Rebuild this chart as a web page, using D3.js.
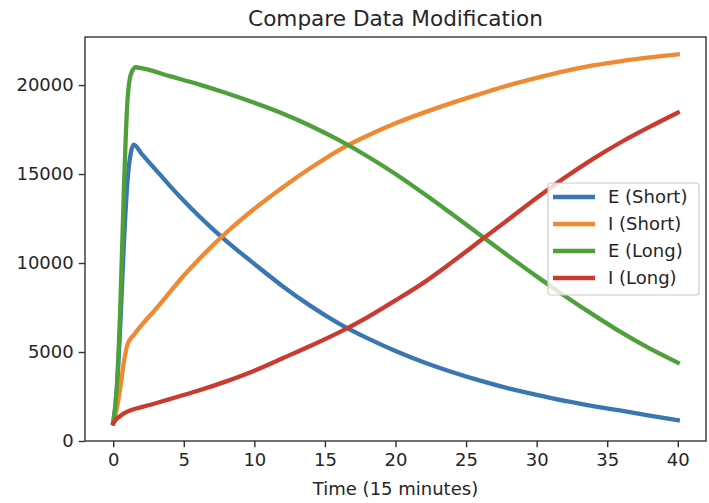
<!DOCTYPE html>
<html lang="en">
<head>
  <meta charset="UTF-8">
  <title>Compare Data Modification</title>
  <script src="https://d3js.org/d3.v7.min.js"></script>
  <style>
    body { margin: 0; background: #fff; }
    text { font-family: "DejaVu Sans", sans-serif; fill: #262626; }
  </style>
</head>
<body>
  <svg id="svg1"></svg>
  <script>
    // values
    const eShortT = [0, 0.25, 0.5, 0.75, 1, 1.25, 1.45, 2, 3, 4, 5, 6, 7, 8, 10, 12, 14, 16, 18, 20, 22, 24, 26, 28, 30, 32, 34, 36, 38, 40];
    const eShort = [1000, 2800, 6500, 11000, 14500, 16200, 16650, 16150, 15250, 14350, 13500, 12700, 11950, 11250, 9950, 8700, 7580, 6600, 5780, 5060, 4430, 3880, 3390, 2960, 2590, 2250, 1960, 1700, 1430, 1170];

    const iShortT = [0, 0.25, 0.5, 0.75, 1, 1.5, 2, 3, 4, 5, 6, 7, 8, 10, 12, 14, 16, 18, 20, 22, 24, 26, 28, 30, 32, 34, 36, 38, 40];
    const iShort = [1000, 1800, 3000, 4400, 5400, 6000, 6500, 7400, 8350, 9300, 10150, 10950, 11700, 13050, 14250, 15350, 16350, 17150, 17850, 18450, 19000, 19500, 19980, 20400, 20780, 21100, 21350, 21550, 21720];

    const eLongT = [0, 0.25, 0.5, 0.75, 1, 1.25, 1.6, 2, 4, 6, 8, 10, 12, 14, 16, 18, 20, 22, 24, 26, 28, 30, 32, 34, 36, 38, 40];
    const eLong = [1000, 3000, 7500, 14000, 19000, 20600, 21000, 20950, 20500, 20050, 19550, 19000, 18400, 17700, 16900, 16000, 15000, 13900, 12750, 11580, 10400, 9250, 8150, 7100, 6100, 5200, 4400];

    const iLongT = [0, 0.25, 0.5, 0.75, 1, 1.5, 2, 4, 6, 8, 10, 12, 14, 16, 18, 20, 22, 24, 26, 28, 30, 32, 34, 36, 38, 40];
    const iLong = [1000, 1250, 1400, 1550, 1650, 1800, 1900, 2350, 2820, 3350, 3950, 4650, 5350, 6100, 6950, 7900, 8900, 10050, 11250, 12450, 13650, 14800, 15850, 16800, 17650, 18450];

    const seriesNames = ["E (Short)", "I (Short)", "E (Long)", "I (Long)"];
    const colors = ["#3a76b2", "#ef8a32", "#4ea03b", "#cb3a2f"];
    const xTicks = [0, 5, 10, 15, 20, 25, 30, 35, 40];
    const yTicks = [0, 5000, 10000, 15000, 20000];

    const series = [
      eShortT.map((t, i) => [t, eShort[i]]),
      iShortT.map((t, i) => [t, iShort[i]]),
      eLongT.map((t, i) => [t, eLong[i]]),
      iLongT.map((t, i) => [t, iLong[i]])
    ];

    const width = 709, height = 503;
    const margin = {top: 37, right: 3, bottom: 62, left: 85};

    const svg = d3.select('#svg1')
      .attr('width', width)
      .attr('height', height);

    const xScale = d3.scaleLinear()
      .domain([-2, 42])
      .range([margin.left, width - margin.right]);

    const yScale = d3.scaleLinear()
      .domain([0, 22700])
      .range([height - margin.bottom, margin.top]);

    const line = d3.line()
      .x(d => xScale(d[0]))
      .y(d => yScale(d[1]))
      .curve(d3.curveMonotoneX);

    svg.append('g')
      .selectAll('path')
      .data(series)
      .enter()
      .append('path')
      .attr('d', line)
      .attr('fill', 'none')
      .attr('stroke', (d, i) => colors[i])
      .attr('stroke-width', 4.3)
      .attr('stroke-linejoin', 'round')
      .attr('stroke-linecap', 'square');

    // axes
    const bottomAxis = d3.axisBottom(xScale)
      .tickValues(xTicks)
      .tickSize(6.3)
      .tickPadding(6);
    const gx = svg.append('g')
      .attr('transform', `translate(0, ${height - margin.bottom})`)
      .call(bottomAxis);

    const leftAxis = d3.axisLeft(yScale)
      .tickValues(yTicks)
      .tickFormat(d3.format('d'))
      .tickSize(6.3)
      .tickPadding(5);
    const gy = svg.append('g')
      .attr('transform', `translate(${margin.left}, 0)`)
      .call(leftAxis);

    [gx, gy].forEach(g => {
      g.select('.domain').remove();
      g.selectAll('.tick line').attr('stroke', '#333').attr('stroke-width', 1.4);
      g.selectAll('.tick text')
        .attr('font-family', '"DejaVu Sans", sans-serif')
        .attr('font-size', 18)
        .attr('fill', '#262626');
    });

    // frame
    svg.append('rect')
      .attr('x', margin.left)
      .attr('y', margin.top)
      .attr('width', width - margin.right - margin.left)
      .attr('height', height - margin.bottom - margin.top)
      .attr('fill', 'none')
      .attr('stroke', '#333')
      .attr('stroke-width', 1.4);

    svg.append('text')
      .attr('x', (margin.left + width - margin.right) / 2)
      .attr('y', 26)
      .attr('text-anchor', 'middle')
      .attr('font-size', 21.6)
      .text('Compare Data Modification');

    svg.append('text')
      .attr('x', (margin.left + width - margin.right) / 2)
      .attr('y', 495)
      .attr('text-anchor', 'middle')
      .attr('font-size', 18)
      .text('Time (15 minutes)');

    // legend
    const legend = svg.append('g').attr('transform', 'translate(548, 183)');
    legend.append('rect')
      .attr('width', 151)
      .attr('height', 112)
      .attr('rx', 3)
      .attr('fill', 'rgba(255,255,255,0.8)')
      .attr('stroke', '#cccccc')
      .attr('stroke-width', 1.2);

    const items = legend.selectAll('g.item')
      .data(seriesNames)
      .enter()
      .append('g')
      .attr('class', 'item')
      .attr('transform', (d, i) => `translate(0, ${14 + i * 27})`);

    items.append('line')
      .attr('x1', 5).attr('x2', 47)
      .attr('stroke', (d, i) => colors[i])
      .attr('stroke-width', 4.3);

    items.append('text')
      .attr('x', 60)
      .attr('dy', '0.35em')
      .attr('font-size', 18)
      .text(d => d);
  </script>
</body>
</html>
